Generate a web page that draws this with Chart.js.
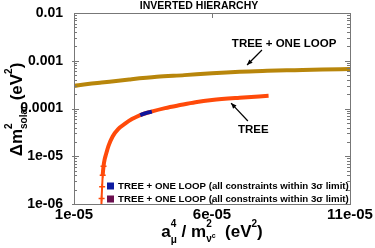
<!DOCTYPE html>
<html>
<head>
<meta charset="utf-8">
<script src="https://cdn.jsdelivr.net/npm/chart.js@4.4.0/dist/chart.umd.min.js"></script>
<style>
html, body { margin: 0; padding: 0; background: #fff; }
</style>
</head>
<body>
<canvas id="c" width="375" height="248"></canvas>
<script>
// axis ticks
const xTicks = [1e-5, 6e-5, 11e-5];
const xTickLabels = ['1e-05', '6e-05', '11e-05'];
const yTicks = [1e-6, 1e-5, 1e-4, 1e-3, 1e-2];
const yTickLabels = ['1e-06', '1e-05', '0.0001', '0.001', '0.01'];

// TREE + ONE LOOP curve
const loopX = [1e-5, 1.5e-5, 2e-5, 3e-5, 4e-5, 5e-5, 6e-5, 7e-5, 8e-5, 9e-5, 10e-5, 11e-5];
const loopY = [2.96e-4, 3.25e-4, 3.5e-4, 4.05e-4, 4.6e-4, 5.0e-4, 5.5e-4, 5.9e-4, 6.15e-4, 6.35e-4, 6.55e-4, 6.7e-4];

// TREE curve
const treeX = [1.99e-5, 2.0e-5, 2.02e-5, 2.04e-5, 2.07e-5, 2.11e-5, 2.16e-5, 2.25e-5, 2.4e-5, 2.6e-5, 2.85e-5, 3.1e-5, 3.4e-5, 3.8e-5, 4.3e-5, 4.85e-5, 5.4e-5, 6e-5, 7e-5, 8.05e-5];
const treeY = [8e-7, 1.3e-6, 2.3e-6, 4e-6, 6.2e-6, 8.6e-6, 1.1e-5, 1.65e-5, 2.6e-5, 3.7e-5, 4.8e-5, 6e-5, 7.3e-5, 8.6e-5, 1.02e-4, 1.18e-4, 1.35e-4, 1.5e-4, 1.68e-4, 1.85e-4];

// points passing all constraints
const okX = [3.4e-5, 3.6e-5, 3.82e-5];
const okY = [7.3e-5, 8.0e-5, 8.6e-5];
const ok2X = [];
const ok2Y = [];

const legendLabel = 'TREE + ONE LOOP (all constraints within 3\u03c3 limit)';
const FAM = '"Liberation Sans", Arial, Helvetica, sans-serif';

const pts = (xs, ys) => xs.map((x, i) => ({ x: x, y: ys[i] }));

function drawRich(ctx, parts, cx, baseY) {
    let w = 0;
    parts.forEach(p => {
        ctx.font = 'bold ' + p.s + 'px ' + FAM;
        p.w = ctx.measureText(p.t).width;
        if (!p.stack) w += p.w;
    });
    let x = cx - w / 2;
    parts.forEach(p => {
        ctx.font = 'bold ' + p.s + 'px ' + FAM;
        ctx.fillText(p.t, x, baseY + (p.dy || 0));
        if (!p.stack) x += p.w;
    });
}

function arrow(ctx, x1, y1, x2, y2) {
    ctx.beginPath();
    ctx.moveTo(x1, y1);
    ctx.lineTo(x2, y2);
    ctx.stroke();
    const a = Math.atan2(y2 - y1, x2 - x1);
    ctx.beginPath();
    ctx.moveTo(x2, y2);
    ctx.lineTo(x2 - 6 * Math.cos(a - 0.4), y2 - 6 * Math.sin(a - 0.4));
    ctx.lineTo(x2 - 6 * Math.cos(a + 0.4), y2 - 6 * Math.sin(a + 0.4));
    ctx.closePath();
    ctx.fill();
}

const decorPlugin = {
    id: 'decor',
    afterDatasetsDraw(chart) {
        const ctx = chart.ctx;
        const a = chart.chartArea;
        const xs = chart.scales.x, ys = chart.scales.y;
        ctx.save();

        // frame
        ctx.strokeStyle = '#777';
        ctx.lineWidth = 1;
        ctx.strokeRect(a.left + 0.5, a.top + 0.5, a.right - a.left, a.bottom - a.top);

        // log ticks on left and right
        ctx.beginPath();
        for (let e = -6; e < -2; e++) {
            for (let k = 1; k <= 9; k++) {
                const py = Math.round(ys.getPixelForValue(k * Math.pow(10, e))) + 0.5;
                const len = k === 1 ? 5 : 3;
                ctx.moveTo(a.left - (k === 1 ? 2 : 0), py); ctx.lineTo(a.left + len, py);
                ctx.moveTo(a.right, py); ctx.lineTo(a.right - len, py);
            }
        }
        xTicks.forEach(v => {
            const px = Math.round(xs.getPixelForValue(v)) + 0.5;
            ctx.moveTo(px, a.bottom); ctx.lineTo(px, a.bottom - 5);
            ctx.moveTo(px, a.top); ctx.lineTo(px, a.top + 5);
        });
        ctx.stroke();

        ctx.fillStyle = '#000';
        ctx.textBaseline = 'alphabetic';

        // x tick labels
        ctx.textAlign = 'center';
        ctx.font = 'bold 15px ' + FAM;
        xTicks.forEach((v, i) => {
            ctx.fillText(xTickLabels[i], xs.getPixelForValue(v), a.bottom + 15);
        });

        // title
        ctx.font = 'bold 10.5px ' + FAM;
        ctx.fillText('INVERTED HIERARCHY', 199, 9);

        // axis titles
        ctx.textAlign = 'left';
        drawRich(ctx, [
            { t: 'a', s: 17 },
            { t: '4', s: 10, dy: -10, stack: true },
            { t: '\u03bc', s: 10, dy: 6 },
            { t: ' / m', s: 17 },
            { t: '2', s: 10, dy: -10, stack: true },
            { t: '\u03bd', s: 10, dy: 5 },
            { t: 'c', s: 7, dy: 1 },
            { t: '  (eV', s: 17 },
            { t: '2', s: 10, dy: -10 },
            { t: ')', s: 17 }
        ], (a.left + a.right) / 2, 237);

        ctx.save();
        ctx.translate(22, (a.top + a.bottom) / 2 + 1);
        ctx.rotate(-Math.PI / 2);
        drawRich(ctx, [
            { t: '\u0394m', s: 17 },
            { t: '2', s: 10, dy: -10, stack: true },
            { t: 'solar', s: 10, dy: 5 },
            { t: ' (eV', s: 17 },
            { t: '2', s: 10, dy: -10 },
            { t: ')', s: 17 }
        ], 0, 0);
        ctx.restore();

        // curve labels with arrows
        ctx.font = 'bold 11.5px ' + FAM;
        ctx.fillText('TREE + ONE LOOP', xs.getPixelForValue(6.72e-5), ys.getPixelForValue(1.94e-3));
        ctx.fillText('TREE', xs.getPixelForValue(6.94e-5), ys.getPixelForValue(3.0e-5));
        ctx.strokeStyle = '#000';
        ctx.lineWidth = 1.2;
        arrow(ctx, xs.getPixelForValue(7.81e-5), ys.getPixelForValue(1.68e-3),
                   xs.getPixelForValue(7.27e-5), ys.getPixelForValue(8.15e-4));
        arrow(ctx, xs.getPixelForValue(7.3e-5), ys.getPixelForValue(5.47e-5),
                   xs.getPixelForValue(6.69e-5), ys.getPixelForValue(1.3e-4));

        // legend inside the plot
        const legendSets = chart.data.datasets.filter(d => d.inLegend);
        ctx.font = 'bold 9.7px ' + FAM;
        ctx.textBaseline = 'middle';
        legendSets.forEach((d, i) => {
            const cy = a.bottom - 18 + i * 13;
            ctx.fillStyle = d.legendColor;
            ctx.fillRect(a.left + 33, cy - 3.5, 7, 7);
            ctx.fillStyle = '#000';
            ctx.fillText(d.label, a.left + 44, cy + 0.5);
        });

        ctx.restore();
    }
};

new Chart(document.getElementById('c'), {
    type: 'scatter',
    data: {
        datasets: [
            {
                label: 'TREE + ONE LOOP',
                data: pts(loopX, loopY),
                showLine: true,
                borderColor: '#B8860B',
                borderWidth: 4,
                pointRadius: 0,
                cubicInterpolationMode: 'monotone',
                order: 3
            },
            {
                label: 'TREE',
                data: pts(treeX, treeY),
                showLine: true,
                borderColor: '#FF4A0A',
                backgroundColor: '#FF4A0A',
                borderWidth: 4,
                pointRadius: 0,
                cubicInterpolationMode: 'monotone',
                segment: {
                    borderWidth: ctx => (ctx.p1.parsed.y < 6e-6 ? 2 : 4)
                },
                order: 2
            },
            {
                label: 'TREE markers',
                data: pts(treeX, treeY).filter(p => p.y < 7e-6),
                showLine: false,
                borderColor: '#FF4A0A',
                pointStyle: 'cross',
                pointRadius: 3,
                borderWidth: 1.5,
                order: 2
            },
            {
                label: legendLabel,
                data: pts(okX, okY),
                showLine: true,
                borderColor: '#10149C',
                borderWidth: 4,
                pointRadius: 0,
                cubicInterpolationMode: 'monotone',
                inLegend: true,
                legendColor: '#0D1AA0',
                order: 0
            },
            {
                label: legendLabel,
                data: pts(ok2X, ok2Y),
                showLine: true,
                borderColor: '#6B0F4F',
                pointRadius: 0,
                inLegend: true,
                legendColor: '#6B0F4F',
                order: 0
            }
        ]
    },
    options: {
        responsive: false,
        animation: false,
        layout: { padding: { left: 0, right: 25, top: 13, bottom: 0 } },
        plugins: {
            legend: { display: false },
            tooltip: { enabled: false }
        },
        scales: {
            x: {
                type: 'linear',
                min: 1e-5,
                max: 11e-5,
                afterBuildTicks: s => { s.ticks = xTicks.map(v => ({ value: v })); },
                afterFit: s => { s.height = 44; },
                ticks: { display: false },
                grid: { display: false },
                border: { display: false }
            },
            y: {
                type: 'logarithmic',
                min: 1e-6,
                max: 1e-2,
                afterBuildTicks: s => { s.ticks = yTicks.map(v => ({ value: v })); },
                afterFit: s => { s.width = 74; },
                ticks: {
                    callback: (v, i) => yTickLabels[i],
                    font: { size: 14, weight: 'bold', family: FAM },
                    color: '#000',
                    padding: 3,
                    autoSkip: false
                },
                grid: { display: false },
                border: { display: false }
            }
        }
    },
    plugins: [decorPlugin]
});
</script>
</body>
</html>
